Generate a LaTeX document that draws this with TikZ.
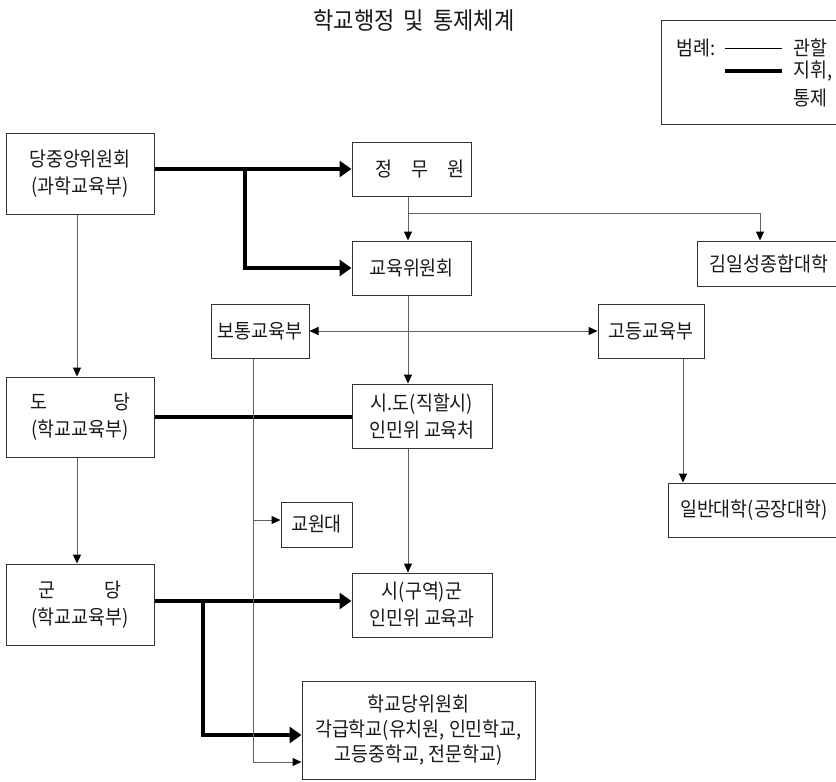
\documentclass[tikz,border=0pt]{standalone}
\usepackage{fontspec}
\setmainfont[FakeStretch=0.92]{Noto Sans CJK KR}
\usetikzlibrary{arrows.meta,calc}
\begin{document}
\begin{tikzpicture}[x=1pt,y=-1pt,
  box/.style={draw=black!80,line width=1pt,inner sep=0pt,align=center,text=black!90,font=\fontsize{20}{27}\selectfont},
  lbl/.style={inner sep=0pt,text=black!90,font=\fontsize{20}{27}\selectfont},
  thinln/.style={draw=black!62,line width=1pt},
  thinarr/.style={thinln,-{Triangle[length=9pt,width=8pt,color=black]}},
  bothtip/.style={thinln,{Triangle[length=9pt,width=8pt,color=black]}-{Triangle[length=9pt,width=8pt,color=black]}},
  thickln/.style={draw=black,line width=4pt},
  thickarr/.style={thickln,-{Triangle[length=12pt,width=16pt]}},
]
\clip (0,0) rectangle (836,782);

% title
\node[lbl,font=\fontsize{24}{28}\selectfont] (title) at (414,20) {학교행정\hspace{4pt} 및\hspace{4pt} 통제체계};

% legend
\draw[draw=black!80,line width=1pt] (661,20) rectangle (850,124);
\node[lbl,anchor=west] (lg0) at (676,48) {범례:};
\coordinate (la1) at (725,48);
\coordinate (la2) at (782,48);
\coordinate (lb1) at (725,71);
\coordinate (lb2) at (782,71);
\draw[line width=1pt,draw=black] (la1) -- (la2);
\draw[thickln] (lb1) -- (lb2);
\node[lbl,anchor=west] (lg1) at (793,48) {관할};
\node[lbl,anchor=west] (lg2) at (793,71) {지휘,};
\node[lbl,anchor=west] (lg3) at (793,98) {통제};

% boxes
\node[box,minimum width=148pt,minimum height=81pt] (dang) at (80,173.5) {당중앙위원회\\(과학교육부)};
\node[box,minimum width=119pt,minimum height=54pt] (jmw) at (411.5,169) {};
\node[lbl] (jmwt) at (420,169) {정\hspace{19pt}무\hspace{19pt}원};
\node[box,minimum width=119pt,minimum height=54pt] (kyw) at (411.5,268) {교육위원회};
\node[box,minimum width=144pt,minimum height=45pt] (kim) at (769,263.5) {김일성종합대학};
\node[box,minimum width=106pt,minimum height=54pt] (gd) at (651,331) {고등교육부};
\node[box,minimum width=98pt,minimum height=54pt] (bt) at (260,331) {보통교육부};
\node[box,minimum width=148pt,minimum height=80pt] (dodang) at (80,417) {도\hspace{66pt}당\\(학교교육부)};
\node[box,minimum width=140pt,minimum height=64pt] (sido) at (422,416) {시.도(직할시)\\인민위 교육처};
\node[box,minimum width=71pt,minimum height=45pt] (kyowon) at (316.5,524.5) {교원대};
\node[box,minimum width=172pt,minimum height=54pt] (ilban) at (754,510) {일반대학(공장대학)};
\node[box,minimum width=148pt,minimum height=81pt] (gundang) at (80,604.5) {군\hspace{50pt}당\\(학교교육부)};
\node[box,minimum width=140pt,minimum height=64pt] (sigun) at (422,605) {시(구역)군\\인민위 교육과};
\node[box,minimum width=233pt,minimum height=98pt,font=\fontsize{20}{25}\selectfont] (school) at (418.5,730) {학교당위원회\\각급학교(유치원, 인민학교,\\고등중학교, 전문학교)};

% helper coordinates
\coordinate (cx) at (408,0);
\coordinate (b1) at (245,0);
\coordinate (b2) at (408,213);
\coordinate (g1) at (203,601);
\coordinate (s1) at (0,735);
\coordinate (gx) at (683,0);
\coordinate (lx) at (77,0);
\coordinate (vx) at (253,0);
\coordinate (v1) at (253,520);
\coordinate (v2) at (253,762);

% thick connectors
\draw[thickarr] (dang.east |- jmw.west) -- (jmw.west);
\draw[thickarr] (b1 |- jmw.west) |- (kyw.west);
\draw[thickln] (dodang.east) -- (dodang.east -| sido.west);
\draw[thickarr] (gundang.east |- g1) -- (sigun.west |- g1);
\draw[thickarr] (g1) |- (school.west |- s1);

% thin connectors
\draw[thinarr] (jmw.south -| cx) -- (kyw.north -| cx);
\draw[thinarr] (b2) -| ([xshift=-9pt]kim.north);
\draw[thinarr] (kyw.south -| cx) -- (sido.north -| cx);
\draw[thinarr] (sido.south -| cx) -- (sigun.north -| cx);
\draw[bothtip] (bt.east) -- (gd.west);
\draw[thinarr] (gd.south -| gx) -- (ilban.north -| gx);
\draw[thinarr] (dang.south -| lx) -- (dodang.north -| lx);
\draw[thinarr] (dodang.south -| lx) -- (gundang.north -| lx);
\draw[thinln] (bt.south -| vx) -- (v2);
\draw[thinarr] (v1) -- (kyowon.west |- v1);
\draw[thinarr] (v2) -- (school.west |- v2);
\end{tikzpicture}
\end{document}
